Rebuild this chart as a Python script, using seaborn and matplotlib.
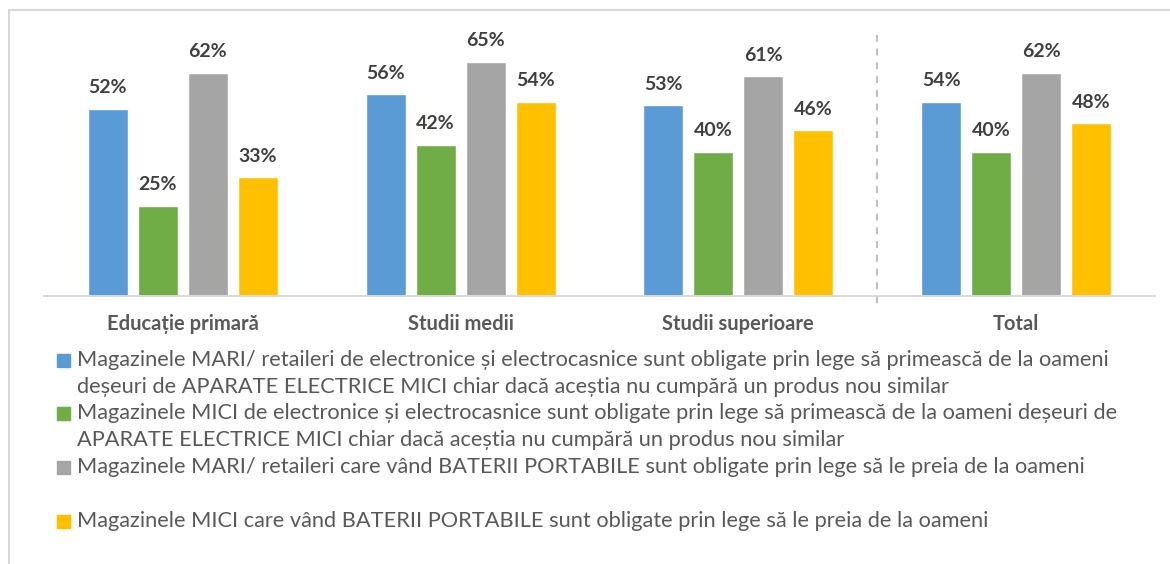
import matplotlib.pyplot as plt
from matplotlib.patches import Rectangle
from matplotlib.lines import Line2D
import seaborn as sns
import pandas as pd

categories = ["Educație primară", "Studii medii", "Studii superioare", "Total"]
series = [
    "Magazinele MARI/ retaileri de electronice și electrocasnice sunt obligate prin lege să primească de la oameni\n"
    "deșeuri de APARATE ELECTRICE MICI chiar dacă aceștia nu cumpără un produs nou similar",
    "Magazinele MICI de electronice și electrocasnice sunt obligate prin lege să primească de la oameni deșeuri de\n"
    "APARATE ELECTRICE MICI chiar dacă aceștia nu cumpără un produs nou similar",
    "Magazinele MARI/ retaileri care vând BATERII PORTABILE sunt obligate prin lege să le preia de la oameni",
    "Magazinele MICI care vând BATERII PORTABILE sunt obligate prin lege să le preia de la oameni",
]
mari_electro = [52, 56, 53, 54]
mici_electro = [25, 42, 40, 40]
mari_baterii = [62, 65, 61, 62]
mici_baterii = [33, 54, 46, 48]
colors = ["#5B9BD5", "#70AD47", "#A5A5A5", "#FFC000"]

rows = []
for name, vals in zip(series, [mari_electro, mici_electro, mari_baterii, mici_baterii]):
    for cat, v in zip(categories, vals):
        rows.append({"categorie": cat, "serie": name, "procent": v})
df = pd.DataFrame(rows)

sns.set_theme(style="white")
plt.rcParams["font.family"] = ["Lato", "DejaVu Sans"]

W, H = 1170, 564
fig = plt.figure(figsize=(W / 100, H / 100), dpi=100)
fig.patch.set_facecolor("white")
ax = fig.add_axes([44 / W, 1 - 296 / H, (1155 - 44) / W, (296 - 20) / H])

sns.barplot(data=df, x="categorie", y="procent", hue="serie", order=categories,
            hue_order=series, palette=colors, saturation=1, width=0.72, gap=0.2,
            legend=False, ax=ax)

for cont in ax.containers:
    ax.bar_label(cont, fmt="%.0f%%", padding=9, fontsize=14, fontweight="bold",
                 color="#404040")

ax.set_xlim(-0.5, 3.5)
ax.set_ylim(0, 276 / 3.6)
ax.set_yticks([])
ax.set_xlabel("")
ax.set_ylabel("")
for s in ["left", "top", "right"]:
    ax.spines[s].set_visible(False)
ax.spines["bottom"].set_color("#D9D9D9")
ax.spines["bottom"].set_linewidth(1.4)
ax.tick_params(axis="x", length=0, pad=13, labelsize=14.5, labelcolor="#595959")
for lab in ax.get_xticklabels():
    lab.set_fontweight("bold")

# separator before Total
ax.axvline(2.5, ymin=-7 / 276, ymax=(296 - 35) / 276, color="#BFBFBF", lw=1.5,
           ls=(0, (3.3, 3.3)), clip_on=False)

# legend drawn by hand so wrapped lines align like the original
entry_y = [360, 413, 467, 521]
for name, col, y in zip(series, colors, entry_y):
    fig.add_artist(Rectangle((57 / W, 1 - (y + 6.5) / H), 13 / W, 13 / H,
                             transform=fig.transFigure, color=col))
    for j, line in enumerate(name.split("\n")):
        fig.text(77 / W, 1 - (y + j * 27) / H, line, va="center", ha="left",
                 fontsize=15.7, color="#595959")

# chart frame
fig.add_artist(Line2D([9 / W, 1], [1 - 10 / H] * 2, color="#D9D9D9", lw=1.5))
fig.add_artist(Line2D([9 / W] * 2, [0, 1 - 10 / H], color="#D9D9D9", lw=1.5))

fig.savefig("out.png", dpi=100)
